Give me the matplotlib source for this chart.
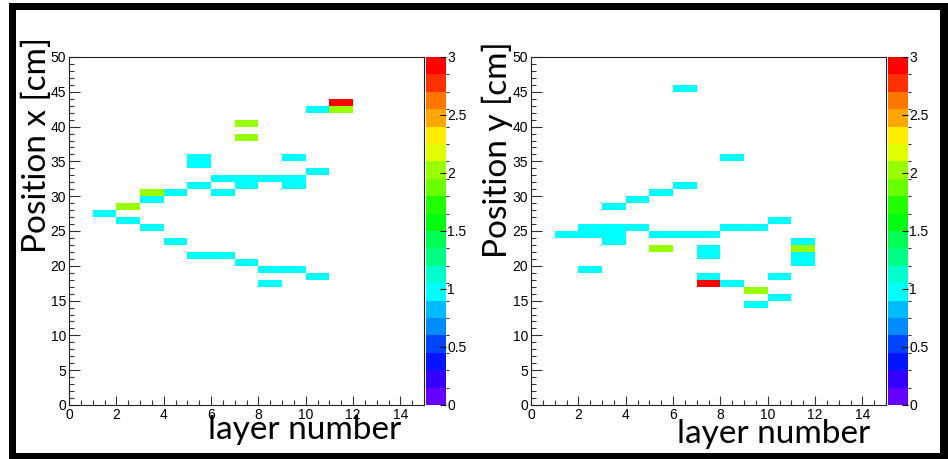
import colorsys
import numpy as np
import matplotlib
matplotlib.use("Agg")
import matplotlib.pyplot as plt
import matplotlib.colors as colors
from matplotlib.patches import Rectangle

# hits in x: layer, position bin (cm), entries
layer_x = [11, 11, 10, 7, 7, 5, 5, 9, 10, 6, 7, 8, 9, 5, 7, 9, 3, 4, 6, 3, 2, 1, 2, 3, 4, 5, 6, 7, 8, 9, 10, 8]
pos_x = [43, 42, 42, 40, 38, 35, 34, 35, 33, 32, 32, 32, 32, 31, 31, 31, 30, 30, 30, 29, 28, 27, 26, 25, 23, 21, 21, 20, 19, 19, 18, 17]
count_x = [3, 2, 1, 2, 2, 1, 1, 1, 1, 1, 1, 1, 1, 1, 1, 1, 2, 1, 1, 1, 2, 1, 1, 1, 1, 1, 1, 1, 1, 1, 1, 1]

# hits in y
layer_y = [6, 8, 6, 5, 4, 3, 10, 2, 3, 4, 8, 9, 1, 2, 3, 5, 6, 7, 3, 11, 5, 7, 11, 7, 11, 11, 2, 7, 10, 7, 8, 9, 10, 9]
pos_y = [45, 35, 31, 30, 29, 28, 26, 25, 25, 25, 25, 25, 24, 24, 24, 24, 24, 24, 23, 23, 22, 22, 22, 21, 21, 20, 19, 18, 18, 17, 17, 16, 15, 14]
count_y = [1, 1, 1, 1, 1, 1, 1, 1, 1, 1, 1, 1, 1, 1, 1, 1, 1, 1, 1, 1, 2, 1, 2, 1, 1, 1, 1, 1, 1, 3, 1, 2, 1, 1]

ylabels = ["Position x [cm]", "Position y [cm]"]
xlabel = "layer number"
cbar_ticks = [0, 0.5, 1, 1.5, 2, 2.5, 3]

# ROOT "pretty" palette, 20 contour levels
n_levels = 20
palette = []
for k in range(n_levels):
    idx = int((k + 0.99) * 50 / n_levels)
    hue = 280 - (idx + 1) * 5.6
    palette.append(colorsys.hls_to_rgb(hue / 360.0, 0.5, 1.0))
cmap = colors.ListedColormap(palette)
norm = colors.BoundaryNorm(np.linspace(0, 3, n_levels + 1), n_levels, clip=True)

W, H = 948, 459
fig = plt.figure(figsize=(W / 100, H / 100), dpi=100)

tick_family = "Liberation Sans"
tick_size = 10
label_font = {"family": "Lato", "size": 24}

# pixel boxes: axes left, colorbar left, ylabel x/y centre, xlabel x centre / baseline
panels = [
    (69, 426, -0.090, 0.748, 0.665, -0.098),
    (531, 888, -0.094, 0.735, 0.683, -0.109),
]
data = [(layer_x, pos_x, count_x), (layer_y, pos_y, count_y)]

for p in range(2):
    left_px, cb_px, ylx, yly, xlx, xly = panels[p]
    ax = fig.add_axes([left_px / W, 54 / H, 355 / W, 348 / H])
    layers, pos, cnt = data[p]
    hist, xe, ye = np.histogram2d(layers, pos, bins=[np.arange(0, 16), np.arange(0, 51)], weights=cnt)
    hist = np.ma.masked_equal(hist, 0)
    mesh = ax.pcolormesh(xe, ye, hist.T, cmap=cmap, norm=norm)
    ax.set_xlim(0, 15)
    ax.set_ylim(0, 50)
    ax.set_xticks(np.arange(0, 15, 2))
    ax.set_xticks(np.arange(0, 15.01, 0.5), minor=True)
    ax.set_yticks(np.arange(0, 51, 5))
    ax.set_yticks(np.arange(0, 51, 1), minor=True)
    ax.tick_params(which="both", direction="in", top=False, right=False, width=0.8, color="#333333")
    ax.tick_params(axis="x", which="major", length=6.5, pad=2)
    ax.tick_params(axis="x", which="minor", length=3.6)
    ax.tick_params(axis="y", which="major", length=7.7, pad=2)
    ax.tick_params(axis="y", which="minor", length=3.6)
    for lab in ax.get_xticklabels() + ax.get_yticklabels():
        lab.set_fontfamily(tick_family)
        lab.set_fontsize(tick_size)
    for s in ax.spines.values():
        s.set_linewidth(0.8)
        s.set_color("#222222")
    ax.text(ylx, yly, ylabels[p], transform=ax.transAxes, rotation=90,
            ha="center", va="center", **label_font)
    ax.text(xlx, xly, xlabel, transform=ax.transAxes, ha="center", va="baseline", **label_font)

    cax = fig.add_axes([cb_px / W, 54 / H, 20 / W, 348 / H])
    cb = fig.colorbar(mesh, cax=cax, ticks=cbar_ticks)
    cb.outline.set_visible(False)
    cb.ax.tick_params(direction="in", length=4.5, width=0.8, pad=1)
    cb.ax.set_yticklabels(["%g" % t for t in cbar_ticks], fontfamily=tick_family, fontsize=tick_size)

# black frame around the canvas
for x0, y0, w, h in [(9, 0, 7, 456), (9, 449, 939, 7), (940, 0, 8, 456), (9, 0, 939, 6)]:
    fig.patches.append(Rectangle((x0 / W, y0 / H), w / W, h / H, transform=fig.transFigure,
                                 facecolor="black", edgecolor="none"))

fig.savefig("out.png", dpi=100)
